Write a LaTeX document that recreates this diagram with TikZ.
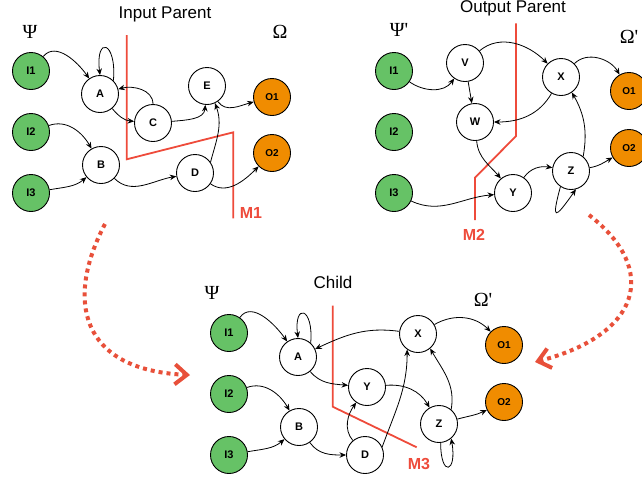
\documentclass[tikz,border=0pt]{standalone}
\usepackage{fontspec}
\setmainfont{Liberation Sans}
\newfontfamily\grkfont{Liberation Serif}
\usetikzlibrary{arrows.meta}
\definecolor{ngreen}{HTML}{66C266}
\definecolor{norange}{HTML}{F08C00}
\definecolor{cutred}{HTML}{EE4B3B}
\definecolor{arrred}{HTML}{E8503A}
\newcommand{\prm}{\raisebox{0.5pt}{\textquotesingle}}
\begin{document}
\begin{tikzpicture}[x=1pt,y=1pt,
  nd/.style={circle,draw=black,line width=0.9pt,minimum size=37pt,inner sep=0pt,fill=white,font=\fontsize{11}{12}\selectfont\bfseries},
  inp/.style={nd,fill=ngreen},
  outp/.style={nd,fill=norange,font=\fontsize{10}{11}\selectfont\bfseries},
  ed/.style={-{Stealth[length=6.5pt,width=5.5pt]},line width=0.8pt},
  cutline/.style={cutred,line width=1.8pt},
  cutlbl/.style={text=cutred,font=\fontsize{16}{18}\selectfont\bfseries},
  ttl/.style={font=\fontsize{17}{19}\selectfont},
  grk/.style={font=\grkfont\fontsize{20}{22}\selectfont},
  bigarr/.style={arrred,line width=4pt,dash pattern=on 4pt off 4pt,-{Straight Barb[length=12pt,width=20pt]}}
]
\useasboundingbox (0,0) rectangle (642,-480);

% ---------- titles and set labels ----------
\node[ttl] (t1) at (165,-14) {Input Parent};
\node[ttl] (t2) at (513,-8) {Output Parent};
\node[ttl] (t3) at (333,-282) {Child};
\node[grk] (psi1) at (30,-32) {Ψ};
\node[grk] (om1) at (280,-32) {Ω};
\node[grk] (psi2) at (399,-30) {Ψ\prm};
\node[grk] (om2) at (629,-37) {Ω\prm};
\node[grk] (psi3) at (212,-293) {Ψ};
\node[grk] (om3) at (483,-300) {Ω\prm};

% ---------- cut lines ----------
\coordinate (m1a) at (126.7,-35);
\coordinate (m1b) at (126.7,-159.3);
\coordinate (m1c) at (233.3,-132.3);
\coordinate (m1d) at (233.3,-218.3);
\draw[cutline] (m1a) -- (m1b) -- (m1c) -- (m1d);
\node[cutlbl] (m1) at (251,-212.5) {M1};

\coordinate (m2a) at (516,-23.3);
\coordinate (m2b) at (516,-136);
\coordinate (m2c) at (475,-177.7);
\coordinate (m2d) at (475,-220);
\draw[cutline] (m2a) -- (m2b) -- (m2c) -- (m2d);
\node[cutlbl] (m2) at (474,-235) {M2};

\coordinate (m3a) at (332.7,-305.7);
\coordinate (m3b) at (332.7,-406.7);
\coordinate (m3c) at (416.7,-447.3);
\draw[cutline] (m3a) -- (m3b) -- (m3c);
\node[cutlbl] (m3) at (419,-464) {M3};

% ---------- input parent ----------
\node[inp] (pI1) at (31,-71) {I1};
\node[inp] (pI2) at (31,-132) {I2};
\node[inp] (pI3) at (31,-193) {I3};
\node[nd] (pA) at (100,-94) {A};
\node[nd] (pB) at (101,-165) {B};
\node[nd] (pC) at (153,-123) {C};
\node[nd] (pD) at (195,-173) {D};
\node[nd] (pE) at (207,-86) {E};
\node[outp] (pO1) at (272,-97) {O1};
\node[outp] (pO2) at (272,-153) {O2};

\draw[ed] (pI1) to[out=50,in=125] (pA);
\draw[ed] (pA.45) .. controls +(85:40) and +(97:40) .. (pA.90);
\draw[ed] (pC) to[out=90,in=15] (pA);
\draw[ed] (pA) to[out=-50,in=175] (pC);
\draw[ed] (pC) to[out=5,in=-95] (pE);
\draw[ed] (pE) to[out=-55,in=195] (pO1);
\draw[ed] (pI2) to[out=20,in=120] (pB);
\draw[ed] (pI3) to[out=10,in=220] (pB);
\draw[ed] (pB) to[out=-45,in=190] (pD);
\draw[ed] (pD.35) to[out=75,in=-70] (pE.-65);
\draw[ed] (pD) to[out=-35,in=225] (pO2);

% ---------- output parent ----------
\node[inp] (qI1) at (394,-71) {I1};
\node[inp] (qI2) at (394,-132) {I2};
\node[inp] (qI3) at (394,-193) {I3};
\node[nd] (qV) at (465,-63) {V};
\node[nd] (qW) at (475,-122) {W};
\node[nd] (qX) at (561,-77) {X};
\node[nd] (qY) at (513,-193) {Y};
\node[nd] (qZ) at (571,-171) {Z};
\node[outp] (qO1) at (629,-91) {O1};
\node[outp] (qO2) at (629,-148) {O2};

\draw[ed] (qI1) to[out=-35,in=235] (qV);
\draw[ed] (qV) to[out=40,in=135] (qX);
\draw[ed] (qX) to[out=45,in=120] (qO1);
\draw[ed] (qV) -- (qW);
\draw[ed] (qX) to[out=240,in=0] (qW);
\draw[ed] (qW) to[out=-85,in=130] (qY);
\draw[ed] (qI3) to[out=-25,in=185] (qY);
\draw[ed] (qY) to[out=55,in=170] (qZ);
\draw[ed] (qZ.50) to[out=80,in=-60] (qX.-55);
\draw[ed] (qZ) to[out=10,in=210] (qO2);
\draw[ed] (qZ.236) .. controls +(255:35) and +(235:38) .. (qZ.-75);

% ---------- child ----------
\node[inp] (cI1) at (229,-333) {I1};
\node[inp] (cI2) at (229,-394) {I2};
\node[inp] (cI3) at (229,-455) {I3};
\node[nd] (cA) at (298,-357) {A};
\node[nd] (cB) at (299,-427) {B};
\node[nd] (cY) at (367,-387) {Y};
\node[nd] (cD) at (365,-455) {D};
\node[nd] (cX) at (418,-334) {X};
\node[nd] (cZ) at (439,-424) {Z};
\node[outp] (cO1) at (504,-345) {O1};
\node[outp] (cO2) at (504,-402) {O2};

\draw[ed] (cI1) to[out=55,in=125] (cA);
\draw[ed] (cA.48) .. controls +(85:36) and +(97:36) .. (cA.90);
\draw[ed] (cX) to[out=172,in=25] (cA);
\draw[ed] (cX) to[out=30,in=135] (cO1);
\draw[ed] (cA) to[out=-50,in=175] (cY);
\draw[ed] (cY) to[out=5,in=120] (cZ);
\draw[ed] (cI2) to[out=20,in=120] (cB);
\draw[ed] (cI3) to[out=10,in=220] (cB);
\draw[ed] (cB) to[out=-55,in=180] (cD);
\draw[ed] (cD) to[out=130,in=235] (cY);
\draw[ed] (cD.25) to[out=70,in=-90] (cX.235);
\draw[ed] (cZ.50) to[out=80,in=-60] (cX.-50);
\draw[ed] (cZ) to[out=15,in=205] (cO2);
\draw[ed] (cZ.-85) .. controls +(-90:35) and +(-80:35) .. (cZ.-50);

% ---------- big dotted arrows ----------
\coordinate (la0) at (105,-224);
\coordinate (la1) at (190,-375);
\draw[bigarr] (la0) .. controls (65,-300) and (80,-370) .. (la1);
\coordinate (ra0) at (589,-215);
\coordinate (ra1) at (535,-362);
\draw[bigarr] (ra0) .. controls (660,-270) and (640,-335) .. (ra1);
\end{tikzpicture}
\end{document}
